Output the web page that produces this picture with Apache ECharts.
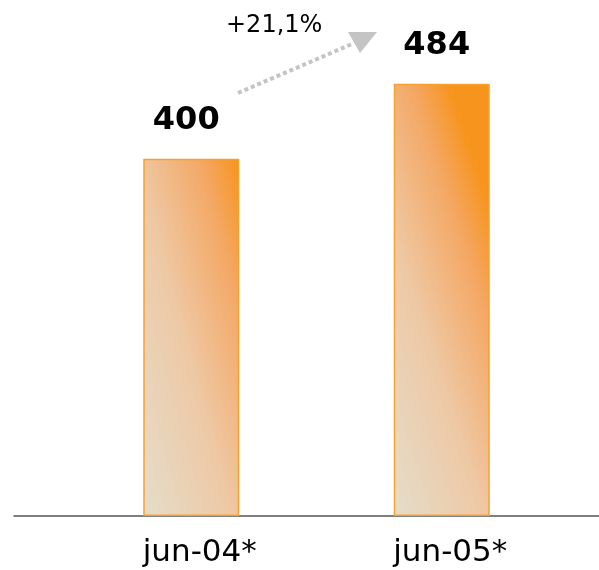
<!DOCTYPE html>
<html><head><meta charset="utf-8">
<script src="https://cdn.jsdelivr.net/npm/echarts@6/dist/echarts.min.js"></script>
<style>html,body{margin:0;padding:0;background:#fff}#c{width:599px;height:570px}</style>
</head><body><div id="c"></div>
<script>
var categories = ['jun-04*', 'jun-05*'];
var values = [400, 484];
var changeLabel = '+21,1%';

var chart = echarts.init(document.getElementById('c'));
var font = 'DejaVu Sans, Verdana, sans-serif';
chart.setOption({
  animation: false,
  grid: [
    {left: 66, right: 32, top: 16, bottom: 54},
    {left: 14, right: 0, top: 16, bottom: 54}
  ],
  xAxis: [
    {type: 'category', data: categories, gridIndex: 0,
     axisLine: {show: false}, axisTick: {show: false},
     axisLabel: {fontFamily: font, fontSize: 31, color: '#000', margin: 21, padding: [0,0,0,17]}},
    {type: 'value', gridIndex: 1, min: 0, max: 1,
     axisLine: {show: true, lineStyle: {color: '#555', width: 1.5}},
     axisTick: {show: false}, axisLabel: {show: false}, splitLine: {show: false}}
  ],
  yAxis: [
    {type: 'value', gridIndex: 0, min: 0, max: 560, show: false},
    {type: 'value', gridIndex: 1, min: 0, max: 560, show: false}
  ],
  series: [{
    type: 'bar', xAxisIndex: 0, yAxisIndex: 0, data: values, barWidth: 96,
    itemStyle: {
      color: new echarts.graphic.LinearGradient(0, 1, 1.86, 0.865, [
        {offset: 0, color: '#e4ddca'},
        {offset: 0.45, color: '#eec9a6'},
        {offset: 0.8, color: '#f4a865'},
        {offset: 1, color: '#f7941d'}
      ]),
      borderColor: '#f7a12e', borderWidth: 1.5
    },
    label: {show: true, position: 'top', distance: 22, offset: [-5, 0],
      fontFamily: font, fontSize: 32, fontWeight: 'bold', color: '#000'}
  }],
  graphic: [
    {type: 'polyline', shape: {points: [[238, 93], [352, 44]]},
     style: {stroke: '#c4c4c4', lineWidth: 4, lineDash: [4, 3], fill: null}},
    {type: 'polygon', shape: {points: [[348, 32], [377, 32], [360, 53]]},
     style: {fill: '#c4c4c4'}},
    {type: 'text', left: 226, top: 14,
     style: {text: changeLabel, font: '24px ' + font, fill: '#000'}}
  ]
});
</script></body></html>
